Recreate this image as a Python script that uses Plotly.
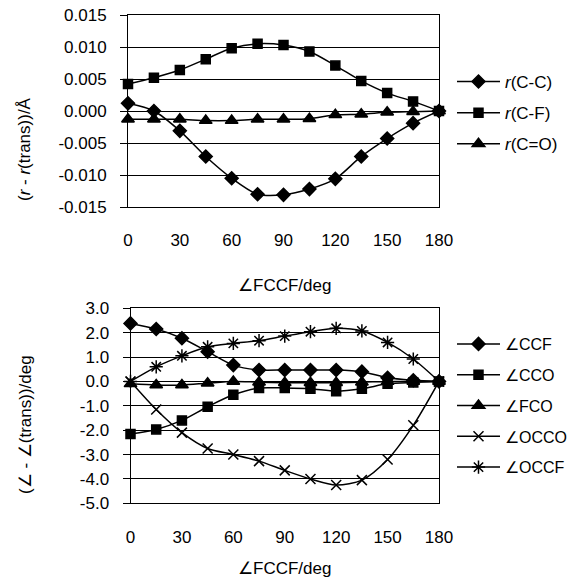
import plotly.graph_objects as go

# ---------------- data ----------------
fccf = [0, 15, 30, 45, 60, 75, 90, 105, 120, 135, 150, 165, 180]
x_ticks = [0, 30, 60, 90, 120, 150, 180]

r_cc = [0.0012, 0.0000, -0.0031, -0.0071, -0.0105, -0.0130, -0.0131, -0.0122, -0.0106, -0.0071, -0.0043, -0.0019, 0.0000]
r_cf = [0.0042, 0.0052, 0.0064, 0.0081, 0.0098, 0.0105, 0.0103, 0.0093, 0.0071, 0.0047, 0.0028, 0.0015, 0.0000]
r_co = [-0.0013, -0.0013, -0.0013, -0.0015, -0.0015, -0.0013, -0.0013, -0.0012, -0.0006, -0.0005, -0.0002, -0.0001, 0.0000]

a_ccf = [2.38, 2.15, 1.77, 1.22, 0.67, 0.47, 0.47, 0.47, 0.47, 0.40, 0.15, 0.05, 0.0]
a_cco = [-2.16, -1.97, -1.60, -1.04, -0.55, -0.27, -0.27, -0.30, -0.40, -0.30, -0.10, -0.04, 0.0]
a_fco = [-0.10, -0.15, -0.15, -0.07, 0.00, -0.03, -0.05, -0.05, -0.05, -0.03, 0.00, 0.00, 0.0]
a_occo = [0.0, -1.15, -2.10, -2.75, -3.00, -3.27, -3.65, -4.00, -4.25, -4.05, -3.20, -1.80, 0.0]
a_occf = [0.0, 0.60, 1.05, 1.42, 1.56, 1.67, 1.86, 2.04, 2.18, 2.07, 1.60, 0.92, 0.0]

top_y_ticks = [0.015, 0.010, 0.005, 0.000, -0.005, -0.010, -0.015]
top_y_labels = ["0.015", "0.010", "0.005", "0.000", "-0.005", "-0.010", "-0.015"]
bot_y_ticks = [3, 2, 1, 0, -1, -2, -3, -4, -5]
bot_y_labels = ["3.0", "2.0", "1.0", "0.0", "-1.0", "-2.0", "-3.0", "-4.0", "-5.0"]

top_series = [
    ("<i>r</i>(C-C)", r_cc, "diamond", 10),
    ("<i>r</i>(C-F)", r_cf, "square", 9),
    ("<i>r</i>(C=O)", r_co, "triangle-up", 11),
]
bot_series = [
    ("∠CCF", a_ccf, "diamond", 10),
    ("∠CCO", a_cco, "square", 9),
    ("∠FCO", a_fco, "triangle-up", 11),
    ("∠OCCO", a_occo, "x-thin", 10),
    ("∠OCCF", a_occf, "asterisk", 11),
]

W, H = 574, 579
FONT = "Liberation Sans, Arial, sans-serif"
fs = 17
OFF = 0  # body margin removed below

def px(x):
    return (x - OFF) / W

def py(y):
    return 1 - (y - OFF) / H

fig = go.Figure()

for i, (name, vals, sym, sz) in enumerate(top_series):
    fig.add_trace(go.Scatter(
        x=fccf, y=vals, name=name, mode="lines+markers",
        line=dict(color="black", width=1.5, shape="spline", smoothing=0.8),
        marker=dict(symbol=sym, size=sz, color="black",
                    line=dict(color="black", width=1.5)),
        xaxis="x", yaxis="y", legend="legend", legendgroup="t%d" % i,
        cliponaxis=False,
    ))

for i, (name, vals, sym, sz) in enumerate(bot_series):
    fig.add_trace(go.Scatter(
        x=fccf, y=vals, name=name, mode="lines+markers",
        line=dict(color="black", width=1.5, shape="spline", smoothing=0.8),
        marker=dict(symbol=sym, size=sz, color="black",
                    line=dict(color="black", width=1.5)),
        xaxis="x2", yaxis="y2", legend="legend2", legendgroup="b%d" % i,
        cliponaxis=False,
    ))

axis_common = dict(showline=True, linecolor="black", linewidth=1, mirror=True,
                   zeroline=False, automargin=False, ticklabeloverflow="allow",
                   tickfont=dict(family=FONT, size=fs, color="black"))

ann_font = dict(family=FONT, size=fs, color="black")

fig.update_layout(
    width=W, height=H,
    margin=dict(l=0, r=0, t=0, b=0, pad=0, autoexpand=False),
    paper_bgcolor="white", plot_bgcolor="white",
    font=dict(family=FONT, size=fs, color="black"),
    showlegend=True,
    xaxis=dict(domain=[px(128), px(439)], range=[0, 180], anchor="y",
               tickvals=x_ticks, ticks="", showgrid=False,
               ticklabelstandoff=18, **axis_common),
    yaxis=dict(domain=[py(207), py(15)], range=[-0.015, 0.015], anchor="x",
               tickvals=top_y_ticks, ticktext=top_y_labels,
               ticks="outside", ticklen=7, tickcolor="black",
               showgrid=True, gridcolor="black", gridwidth=1,
               ticklabelstandoff=10, **axis_common),
    xaxis2=dict(domain=[px(130.5), px(439)], range=[0, 180], anchor="y2",
                tickvals=x_ticks, ticks="", showgrid=False,
                ticklabelstandoff=18, **axis_common),
    yaxis2=dict(domain=[py(503.3), py(308.3)], range=[-5, 3], anchor="x2",
                tickvals=bot_y_ticks, ticktext=bot_y_labels,
                ticks="outside", ticklen=7, tickcolor="black",
                showgrid=True, gridcolor="black", gridwidth=1,
                ticklabelstandoff=10, **axis_common),
    legend=dict(x=px(452), y=py(64), xanchor="left", yanchor="top",
                font=dict(family=FONT, size=fs, color="black"),
                bgcolor="rgba(0,0,0,0)", itemwidth=43, tracegroupgap=6),
    legend2=dict(x=px(452), y=py(327), xanchor="left", yanchor="top",
                 font=dict(family=FONT, size=16, color="black"),
                 bgcolor="rgba(0,0,0,0)", itemwidth=43, tracegroupgap=7),
    annotations=[
        dict(text="∠FCCF/deg", x=px(284), y=py(285), xref="paper", yref="paper",
             xanchor="center", yanchor="middle", showarrow=False, font=ann_font),
        dict(text="∠FCCF/deg", x=px(284), y=py(568), xref="paper", yref="paper",
             xanchor="center", yanchor="middle", showarrow=False, font=ann_font),
        dict(text="(<i>r</i> - <i>r</i>(trans))/Å", x=px(25), y=py(149),
             xref="paper", yref="paper", xanchor="center", yanchor="middle",
             textangle=-90, showarrow=False, font=ann_font),
        dict(text="(∠ - ∠(trans))/deg", x=px(25), y=py(425),
             xref="paper", yref="paper", xanchor="center", yanchor="middle",
             textangle=-90, showarrow=False, font=ann_font),
    ],
)

fig.write_html("out.html",
               config={"displayModeBar": False},
               post_script="document.body.style.margin='0';document.body.style.padding='0';")
